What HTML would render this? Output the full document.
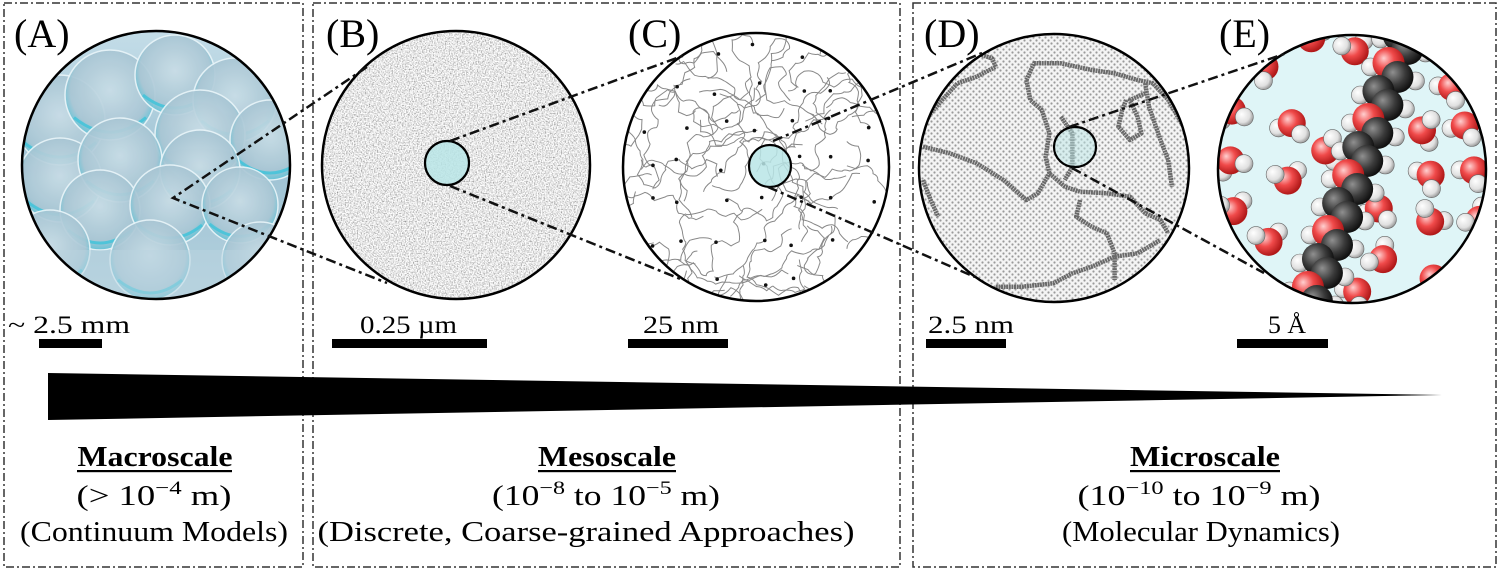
<!DOCTYPE html>
<html><head><meta charset="utf-8"><style>
html,body{margin:0;padding:0;background:#fff;width:1500px;height:572px;overflow:hidden}
svg{display:block}
text{font-family:"Liberation Serif",serif;fill:#000}
</style></head><body>
<svg id="s" width="1500" height="572" viewBox="0 0 1500 572" xmlns="http://www.w3.org/2000/svg">
<defs>
 <clipPath id="cA"><circle cx="156" cy="165" r="134"/></clipPath>
 <clipPath id="cB"><circle cx="456" cy="165" r="134"/></clipPath>
 <clipPath id="cC"><ellipse cx="756" cy="167" rx="133" ry="134"/></clipPath>
 <clipPath id="cD"><ellipse cx="1054" cy="168" rx="135" ry="134"/></clipPath>
 <clipPath id="cE"><ellipse cx="1352" cy="169" rx="134" ry="134"/></clipPath>
 <filter id="noise" x="0" y="0" width="100%" height="100%">
  <feTurbulence type="fractalNoise" baseFrequency="0.75" numOctaves="2" seed="3"/>
  <feColorMatrix type="matrix" values="1.6 0 0 0 0.0  1.6 0 0 0 0.0  1.6 0 0 0 0.0  0 0 0 0 1"/>
 </filter>
 <pattern id="dots" width="6" height="6" patternUnits="userSpaceOnUse">
  <rect width="6" height="6" fill="#f4f4f4"/>
  <circle cx="1.5" cy="1.5" r="1.1" fill="#9a9a9a"/>
  <circle cx="4.5" cy="4.5" r="1.1" fill="#9a9a9a"/>
 </pattern>
 <linearGradient id="bgA" x1="0" y1="0" x2="0" y2="1">
  <stop offset="0" stop-color="#c4dde8"/><stop offset="0.5" stop-color="#9fc3d4"/><stop offset="1" stop-color="#b7d3df"/>
 </linearGradient>
 <radialGradient id="sph" cx="0.5" cy="0.45" r="0.55">
  <stop offset="0" stop-color="#c9dde6"/><stop offset="0.8" stop-color="#a9c6d4"/><stop offset="1" stop-color="#5fc3d6"/>
 </radialGradient>
 <radialGradient id="gO" cx="0.4" cy="0.4" r="0.6" fx="0.35" fy="0.35">
  <stop offset="0" stop-color="#ffd0d0"/><stop offset="0.5" stop-color="#f04a4a"/><stop offset="1" stop-color="#b01818"/>
 </radialGradient>
 <radialGradient id="gH" cx="0.4" cy="0.4" r="0.6" fx="0.35" fy="0.35">
  <stop offset="0" stop-color="#ffffff"/><stop offset="0.7" stop-color="#e0e0e0"/><stop offset="1" stop-color="#a0a0a0"/>
 </radialGradient>
 <radialGradient id="gC" cx="0.4" cy="0.4" r="0.6" fx="0.35" fy="0.35">
  <stop offset="0" stop-color="#909090"/><stop offset="0.6" stop-color="#3a3a3a"/><stop offset="1" stop-color="#111"/>
 </radialGradient>
</defs>

<g fill="none" stroke="#333" stroke-width="1.5" stroke-dasharray="8 3 2 3">
 <rect x="4" y="3" width="299" height="564"/>
 <rect x="313" y="3" width="587" height="564"/>
 <rect x="913" y="3" width="583" height="564"/>
</g>

<g clip-path="url(#cA)" id="gA">
 <rect x="20" y="30" width="280" height="280" fill="url(#bgA)"/>
</g>
<g clip-path="url(#cB)">
 <rect x="320" y="30" width="275" height="275" fill="#ccc" filter="url(#noise)"/>
</g>
<g clip-path="url(#cC)" id="gCc"><rect x="620" y="30" width="275" height="275" fill="#fff"/></g>
<g clip-path="url(#cD)" id="gDd"><rect x="915" y="30" width="280" height="280" fill="url(#dots)"/></g>
<g clip-path="url(#cE)" id="gEe"><rect x="1215" y="30" width="280" height="280" fill="#dff5f7"/></g>

<g fill="none" stroke="#000" stroke-width="2.5">
 <circle cx="156" cy="165" r="134"/>
 <circle cx="456" cy="165" r="134"/>
 <ellipse cx="756" cy="167" rx="133" ry="134"/>
 <ellipse cx="1054" cy="168" rx="135" ry="134"/>
 <ellipse cx="1352" cy="169" rx="134" ry="134"/>
</g>
<g fill="#b9e5e6" fill-opacity="0.85" stroke="#000" stroke-width="2.2">
 <ellipse cx="447" cy="163" rx="22" ry="22"/>
 <ellipse cx="770" cy="166" rx="21" ry="21"/>
 <ellipse cx="1075" cy="147" rx="21" ry="20" fill-opacity="0.5"/>
</g>

<g stroke="#111" stroke-width="2.5" stroke-dasharray="10 4 3 4" fill="none">
 <path d="M367 67 L173 198 L387 283"/>
 <path d="M450 141 L685 55 M450 186 L683 280"/>
 <path d="M773 141 L982 53 M768 187 L975 277"/>
 <path d="M1069 127 L1287 53 M1072 168 L1264 273"/>
</g>

<g font-size="40">
 <text x="14" y="47">(A)</text>
 <text x="326" y="47">(B)</text>
 <text x="628" y="47">(C)</text>
 <text x="924" y="47">(D)</text>
 <text x="1219" y="47">(E)</text>
</g>

<g font-size="25">
 <text x="8" y="333" textLength="122" lengthAdjust="spacingAndGlyphs">~ 2.5 mm</text>
 <text x="360" y="333" textLength="97" lengthAdjust="spacingAndGlyphs">0.25 µm</text>
 <text x="643" y="333" textLength="76" lengthAdjust="spacingAndGlyphs">25 nm</text>
 <text x="928" y="333" textLength="86" lengthAdjust="spacingAndGlyphs">2.5 nm</text>
 <text x="1268" y="333" textLength="38" lengthAdjust="spacingAndGlyphs">5 Å</text>
</g>
<g fill="#000">
 <rect x="39" y="339" width="63" height="9"/>
 <rect x="332" y="339" width="155" height="9"/>
 <rect x="628" y="339" width="100" height="9"/>
 <rect x="926" y="339" width="80" height="9"/>
 <rect x="1237" y="339" width="91" height="9"/>
</g>

<polygon points="48,373 1442,395 48,420" fill="#000"/>

<g font-size="28" text-anchor="middle">
 <text x="155" y="466" font-weight="bold" textLength="155" lengthAdjust="spacingAndGlyphs">Macroscale</text>
 <rect x="77" y="470" width="155" height="2.2" fill="#000"/>
 <text x="154" y="505" textLength="155" lengthAdjust="spacingAndGlyphs">(&gt; 10<tspan font-size="19" dy="-11">−4</tspan><tspan dy="11"> m)</tspan></text>
 <text x="154" y="541" textLength="268" lengthAdjust="spacingAndGlyphs">(Continuum Models)</text>

 <text x="607" y="466" font-weight="bold" textLength="138" lengthAdjust="spacingAndGlyphs">Mesoscale</text>
 <rect x="538" y="470" width="138" height="2.2" fill="#000"/>
 <text x="606" y="505" textLength="228" lengthAdjust="spacingAndGlyphs">(10<tspan font-size="19" dy="-11">−8</tspan><tspan dy="11"> to 10</tspan><tspan font-size="19" dy="-11">−5</tspan><tspan dy="11"> m)</tspan></text>
 <text x="586" y="541" textLength="537" lengthAdjust="spacingAndGlyphs">(Discrete, Coarse-grained Approaches)</text>

 <text x="1205" y="466" font-weight="bold" textLength="150" lengthAdjust="spacingAndGlyphs">Microscale</text>
 <rect x="1130" y="470" width="150" height="2.2" fill="#000"/>
 <text x="1199" y="505" textLength="243" lengthAdjust="spacingAndGlyphs">(10<tspan font-size="19" dy="-11">−10</tspan><tspan dy="11"> to 10</tspan><tspan font-size="19" dy="-11">−9</tspan><tspan dy="11"> m)</tspan></text>
 <text x="1201" y="541" textLength="278" lengthAdjust="spacingAndGlyphs">(Molecular Dynamics)</text>
</g>
</svg>
<script>
(function(){
var NS="http://www.w3.org/2000/svg";
function el(p,t,a){var e=document.createElementNS(NS,t);for(var k in a)e.setAttribute(k,a[k]);p.appendChild(e);return e;}
var seed=12345;function R(){seed|=0;seed=seed+0x6D2B79F5|0;var t=Math.imul(seed^seed>>>15,1|seed);t=t+Math.imul(t^t>>>7,61|t)^t;return((t^t>>>14)>>>0)/4294967296;}
var gA=document.getElementById("gA");
var sp=[[60,120,45],[110,95,45],[175,75,40],[235,100,42],[200,135,45],[270,140,40],[60,180,42],[120,160,42],[200,170,40],[100,210,40],[170,205,40],[240,205,38],[50,250,40],[150,260,40],[260,260,38]];
sp.forEach(function(s){el(gA,"circle",{cx:s[0],cy:s[1],r:s[2],fill:"url(#sph)",stroke:"#e8f4f8","stroke-width":1.5,opacity:0.92});
 el(gA,"path",{d:"M"+(s[0]-s[2]*0.8)+" "+(s[1]+s[2]*0.5)+" Q"+s[0]+" "+(s[1]+s[2]*1.15)+" "+(s[0]+s[2]*0.8)+" "+(s[1]+s[2]*0.5),fill:"none",stroke:"#3cc3da","stroke-width":3,opacity:0.8});});
el(gA,"rect",{x:20,y:250,width:280,height:60,fill:"#b9d4df",opacity:0.5});
// C squiggles: smooth curvy random walks
var gC=document.getElementById("gCc");
for(var i=0;i<70;i++){var x=620+R()*275,y=30+R()*275,a=R()*6.28,d="M"+x.toFixed(1)+" "+y.toFixed(1);
 for(var j=0;j<14;j++){a+=(R()-0.5)*2.6;var L=7+R()*6;var mx=x+Math.cos(a)*L*0.6+(R()-0.5)*6,my=y+Math.sin(a)*L*0.6+(R()-0.5)*6;x+=Math.cos(a)*L;y+=Math.sin(a)*L;d+=" Q"+mx.toFixed(1)+" "+my.toFixed(1)+" "+x.toFixed(1)+" "+y.toFixed(1);}
 el(gC,"path",{d:d,fill:"none",stroke:"#888","stroke-width":1});}
for(var gx=645;gx<890;gx+=38)for(var gy=50;gy<300;gy+=38){el(gC,"circle",{cx:gx+(R()-0.5)*16,cy:gy+(R()-0.5)*16,r:1.8,fill:"#111"});}
var gD=document.getElementById("gDd");
var P=[[[200,160],[240,175],[250,200],[200,230],[150,250],[110,300],[80,340],[60,380]],
[[330,240],[350,190],[420,190],[500,210],[560,220],[620,240],[660,250],[700,300],[740,380]],
[[330,240],[340,300],[370,330],[390,400],[380,470],[390,520],[430,560],[470,575],[540,580],[600,590],[640,640],[680,660],[700,700]],
[[60,440],[130,460],[200,490],[270,540],[330,600],[360,580],[390,520]],
[[420,350],[450,400],[450,500],[430,540]],
[[590,300],[580,330],[570,380],[600,420],[630,400],[620,350],[600,300],[640,280]],
[[640,250],[650,320],[680,420],[700,480],[710,560]],
[[470,600],[460,650],[500,680],[540,700],[560,760],[560,840]],
[[60,540],[80,600],[100,650]],
[[250,860],[320,860],[400,850],[450,820],[500,800],[560,770],[620,760],[650,740],[680,720]]];
P.forEach(function(p){var d="";p.forEach(function(q,k){d+=(k?" L":"M")+(900+q[0]/2.61).toFixed(1)+" "+(q[1]/3).toFixed(1);});
 el(gD,"path",{d:d,fill:"none",stroke:"#6a6a6a","stroke-width":4.5,"stroke-linejoin":"round","stroke-dasharray":"2 0.6"});});
// E
var gE=document.getElementById("gEe");
function water(x,y,a){var h1=a+0.95,h2=a-0.95;
 el(gE,"circle",{cx:x+Math.cos(h1)*14,cy:y+Math.sin(h1)*14,r:9,fill:"url(#gH)",stroke:"#666","stroke-width":0.6});
 el(gE,"circle",{cx:x,cy:y,r:14,fill:"url(#gO)"});
 el(gE,"circle",{cx:x+Math.cos(h2)*14,cy:y+Math.sin(h2)*14,r:9,fill:"url(#gH)",stroke:"#666","stroke-width":0.6});}
var placed=[];
for(var k=0;k<400&&placed.length<38;k++){var x=1222+R()*266,y=38+R()*266;var cx=1400-(y-45)*0.36; if(Math.abs(x-cx)<34)continue;
 var ok=true;for(var m=0;m<placed.length;m++){var dx=placed[m][0]-x,dy=placed[m][1]-y;if(dx*dx+dy*dy<40*40){ok=false;break;}}
 if(!ok)continue;placed.push([x,y]);water(x,y,R()*6.28);}
for(var t=0;t<=20;t++){var y=35+t*14,x=1402-(y-45)*0.36+(t%2?9:-9);
 el(gE,"circle",{cx:x+(t%2?16:-16),cy:y+4,r:9,fill:"url(#gH)",stroke:"#666","stroke-width":0.6});}
for(var t=0;t<=20;t++){var y=35+t*14,x=1402-(y-45)*0.36+(t%2?7:-7);
 el(gE,"circle",{cx:x,cy:y,r:16,fill:(t%4==2)?"url(#gO)":"url(#gC)"});}
})();
</script>
</body></html>
